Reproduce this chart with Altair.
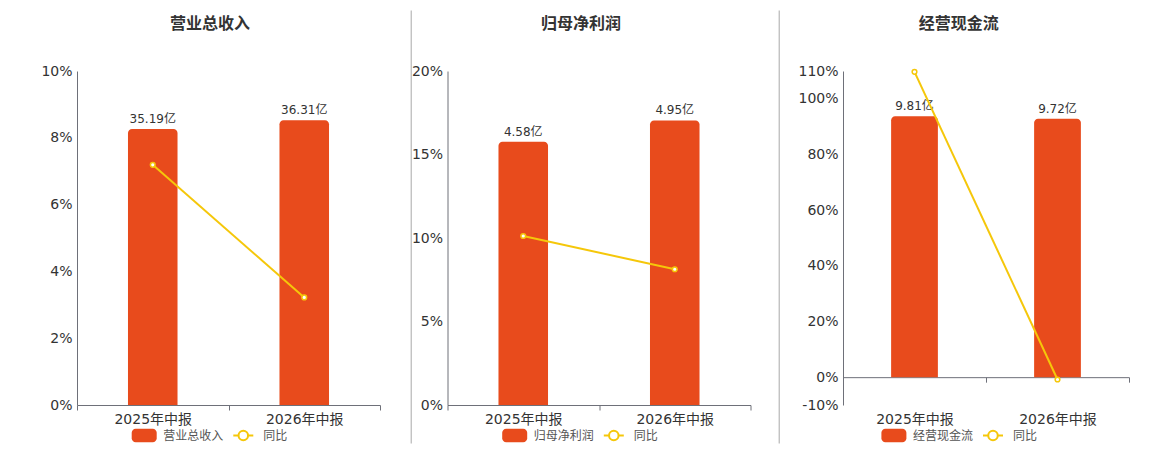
import altair as alt
import pandas as pd

# ---------------- data ----------------
periods = ["2025年中报", "2026年中报"]
titles = ["营业总收入", "归母净利润", "经营现金流"]
bar_values = [
    [35.19, 36.31],
    [4.58, 4.95],
    [9.81, 9.72],
]
yoy_values = [
    [7.19, 3.22],
    [10.12, 8.13],
    [109.7, -0.83],
]
unit = "亿"
yoy_name = "同比"
pct_ticks = [
    [0, 2, 4, 6, 8, 10],
    [0, 5, 10, 15, 20],
    [-10, 0, 20, 40, 60, 80, 100, 110],
]
pct_domains = [[0, 10], [0, 20], [-10, 110]]
bar_domains = [[0, 42.6], [0, 5.81], [-1.04, 11.51]]

# ---------------- style ----------------
FONT = "DejaVu Sans, Noto Sans CJK SC"
BAR = "#E84B1C"
LINE = "#F5C70A"
AXIS = "#6E7079"
GRID = "#E0E6F1"
TXT = "#333333"
H = 334
widths = [303, 303, 286]
title_x = [133, 133.5, 115.7]
legend_x = [54.7, 54.7, 38.4]
sep_x = [-68.5, -36.3, -63.8]
sep_op = [0, 1, 1]


def panel(i):
    df = pd.DataFrame({"period": periods, "value": bar_values[i], "yoy": yoy_values[i]})
    df["label"] = [f"{v:.2f}{unit}" for v in bar_values[i]]
    one = pd.DataFrame({"t": [titles[i]], "y": [yoy_name]})

    dmin, dmax = pct_domains[i]
    off = H * (0 - dmin) / (dmax - dmin)

    x = alt.X(
        "period:N",
        sort=periods,
        title=None,
        scale=alt.Scale(paddingInner=0, paddingOuter=0),
        axis=alt.Axis(
            labelAngle=0, labelFontSize=14, labelColor=TXT,
            domainColor=AXIS, domainWidth=1, tickColor=AXIS, tickSize=5,
            tickBand="extent", labelPadding=2 + off, offset=-off, grid=False,
        ),
    )
    yb = alt.Y("value:Q", scale=alt.Scale(domain=bar_domains[i], nice=False, zero=False), axis=None)
    yp = alt.Y(
        "yoy:Q",
        scale=alt.Scale(domain=pct_domains[i], nice=False, zero=False),
        axis=alt.Axis(
            orient="left", values=pct_ticks[i], labelExpr="datum.value + '%'",
            ticks=False, tickSize=0, labelPadding=5, labelFontSize=14,
            labelColor=TXT, domainColor=AXIS, gridColor=GRID, title=None,
        ),
    )

    base = alt.Chart(df)
    bars = base.mark_bar(
        color=BAR, cornerRadiusTopLeft=4, cornerRadiusTopRight=4,
        width=alt.RelativeBandSize(0.327),
    ).encode(x=x, y=yb, y2=alt.datum(0))
    btxt = base.mark_text(fontSize=12, color=TXT, baseline="alphabetic", dy=-6).encode(
        x="period:N", y=yb, text="label:N"
    )
    line = base.mark_line(color=LINE, strokeWidth=2).encode(x="period:N", y=yp)
    pts = base.mark_point(
        filled=True, fill="white", stroke=LINE, strokeWidth=1.5, size=22, opacity=1
    ).encode(x="period:N", y="yoy:Q")

    d = alt.Chart(one)
    L = legend_x[i]
    ly = 364.5
    title = d.mark_text(fontSize=16, fontWeight="bold", color=TXT, align="center", baseline="middle").encode(
        x=alt.value(title_x[i]), y=alt.value(-47.2), text="t:N"
    )
    swatch = d.mark_rect(color=BAR, cornerRadius=4).encode(
        x=alt.value(L), x2=alt.value(L + 25), y=alt.value(ly - 6.7), y2=alt.value(ly + 6.7)
    )
    sw_label = d.mark_text(fontSize=12, color="#555555", align="left", baseline="middle").encode(
        x=alt.value(L + 31.6), y=alt.value(ly), text="t:N"
    )
    leg_line = d.mark_rule(color=LINE, strokeWidth=2).encode(
        x=alt.value(L + 101.6), x2=alt.value(L + 121.6), y=alt.value(ly)
    )
    leg_pt = d.mark_point(
        shape="circle", filled=True, fill="white", stroke=LINE, strokeWidth=2, size=90, opacity=1
    ).encode(x=alt.value(L + 111.6), y=alt.value(ly))
    leg_label = d.mark_text(fontSize=12, color="#555555", align="left", baseline="middle").encode(
        x=alt.value(L + 131.6), y=alt.value(ly), text="y:N"
    )
    sep = d.mark_rule(color="#A9A9A9", strokeWidth=1, opacity=sep_op[i]).encode(
        x=alt.value(sep_x[i]), y=alt.value(-60.5), y2=alt.value(372.5)
    )

    return (
        alt.layer(
            alt.layer(bars, btxt),
            alt.layer(line, pts),
            title, swatch, sw_label, leg_line, leg_pt, leg_label, sep,
        )
        .resolve_scale(y="independent")
        .properties(width=widths[i], height=H)
    )


chart = (
    alt.hconcat(alt.hconcat(panel(0), panel(1), spacing=29.5), panel(2), spacing=27)
    .properties(padding={"left": 0, "top": 2, "right": 0, "bottom": 0})
    .configure(font=FONT)
    .configure_view(stroke=None)
)

chart.save("out.html", embed_options={"renderer": "svg", "actions": False})
